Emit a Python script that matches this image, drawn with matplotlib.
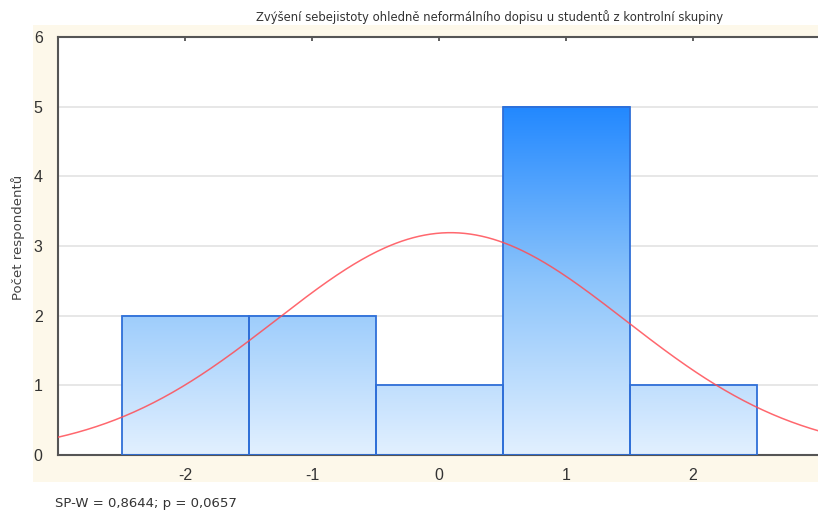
import numpy as np
import matplotlib
matplotlib.use("Agg")
import matplotlib.pyplot as plt
from matplotlib.colors import LinearSegmentedColormap
from matplotlib.patches import Rectangle

# histogram data
bin_centers = [-2, -1, 0, 1, 2]
counts = [2, 2, 1, 5, 1]
title = "Zvýšení sebejistoty ohledně neformálního dopisu u studentů z kontrolní skupiny"
ylabel = "Počet respondentů"
note = "SP-W = 0,8644; p = 0,0657"

fig = plt.figure(figsize=(8.18, 5.12), dpi=100)
fig.patch.set_facecolor("white")

W, H = 818, 512
# cream panel behind the plot
bg = Rectangle((33 / W, (H - 482) / H), 1 - 33 / W, (482 - 25) / H,
               transform=fig.transFigure, facecolor="#fdf8ea",
               edgecolor="none", zorder=-5)
fig.add_artist(bg)

ax = fig.add_axes([58 / W, (H - 455) / H, (820 - 58) / W, (455 - 37) / H])
ax.set_zorder(1)
ax.set_facecolor("white")

ax.yaxis.grid(True, color="#e3e3e3", linewidth=1.2, zorder=0)
ax.set_axisbelow(True)

cmap = LinearSegmentedColormap.from_list("bars", ["#e2f0ff", "#8cc4fb", "#2288ff"])
grad = np.linspace(0, 1, 256).reshape(-1, 1)
top = max(counts)
for c, n in zip(bin_centers, counts):
    x0, x1 = c - 0.5, c + 0.5
    g = grad[: int(256 * n / top)]
    ax.imshow(g, cmap=cmap, vmin=0, vmax=1, origin="lower", aspect="auto",
              extent=(x0, x1, 0, n), zorder=2, interpolation="bilinear")
    ax.add_patch(Rectangle((x0, 0), 1, n, facecolor="none", edgecolor="#2f6fd8",
                           linewidth=1.3, zorder=3))
ax.set_xlim(-3, 3)
ax.set_ylim(0, 6)

# fitted normal curve from the binned data
vals = np.repeat(bin_centers, counts)
mu, sd = vals.mean(), vals.std(ddof=1)
xs = np.linspace(-3, 3, 400)
ys = len(vals) * 1.0 / (sd * np.sqrt(2 * np.pi)) * np.exp(-(xs - mu) ** 2 / (2 * sd ** 2))
ax.plot(xs, ys, color="#ff4d55", linewidth=1.1, alpha=0.85, zorder=4)

for s in ["left", "top", "bottom"]:
    ax.spines[s].set_color("#555555")
    ax.spines[s].set_linewidth(1.5)
ax.spines["right"].set_visible(False)

ax.set_xticks(bin_centers)
ax.set_xticklabels(["-2", "-1", "0", "1", "2"])
ax.set_yticks(range(7))
ax.tick_params(axis="x", direction="in", length=3, width=1.2, color="#444444",
               top=True, labelsize=11.5, pad=9, labelcolor="#333333")
ax.tick_params(axis="y", direction="in", length=0, labelsize=11.5, pad=11,
               labelcolor="#333333")
for lbl in ax.get_xticklabels() + ax.get_yticklabels():
    lbl.set_family("Liberation Sans")

ax.set_ylabel(ylabel, fontsize=9.5, color="#444444")
ax.yaxis.set_label_coords(-0.043, 0.52)
fig.text(490 / W, 1 - 17 / H, title, ha="center", va="center", fontsize=8.4, color="#333333")
fig.text(55 / W, 1 - 503 / H, note, ha="left", va="center", fontsize=9.5, color="#333333")

fig.savefig("out.png", dpi=100)
